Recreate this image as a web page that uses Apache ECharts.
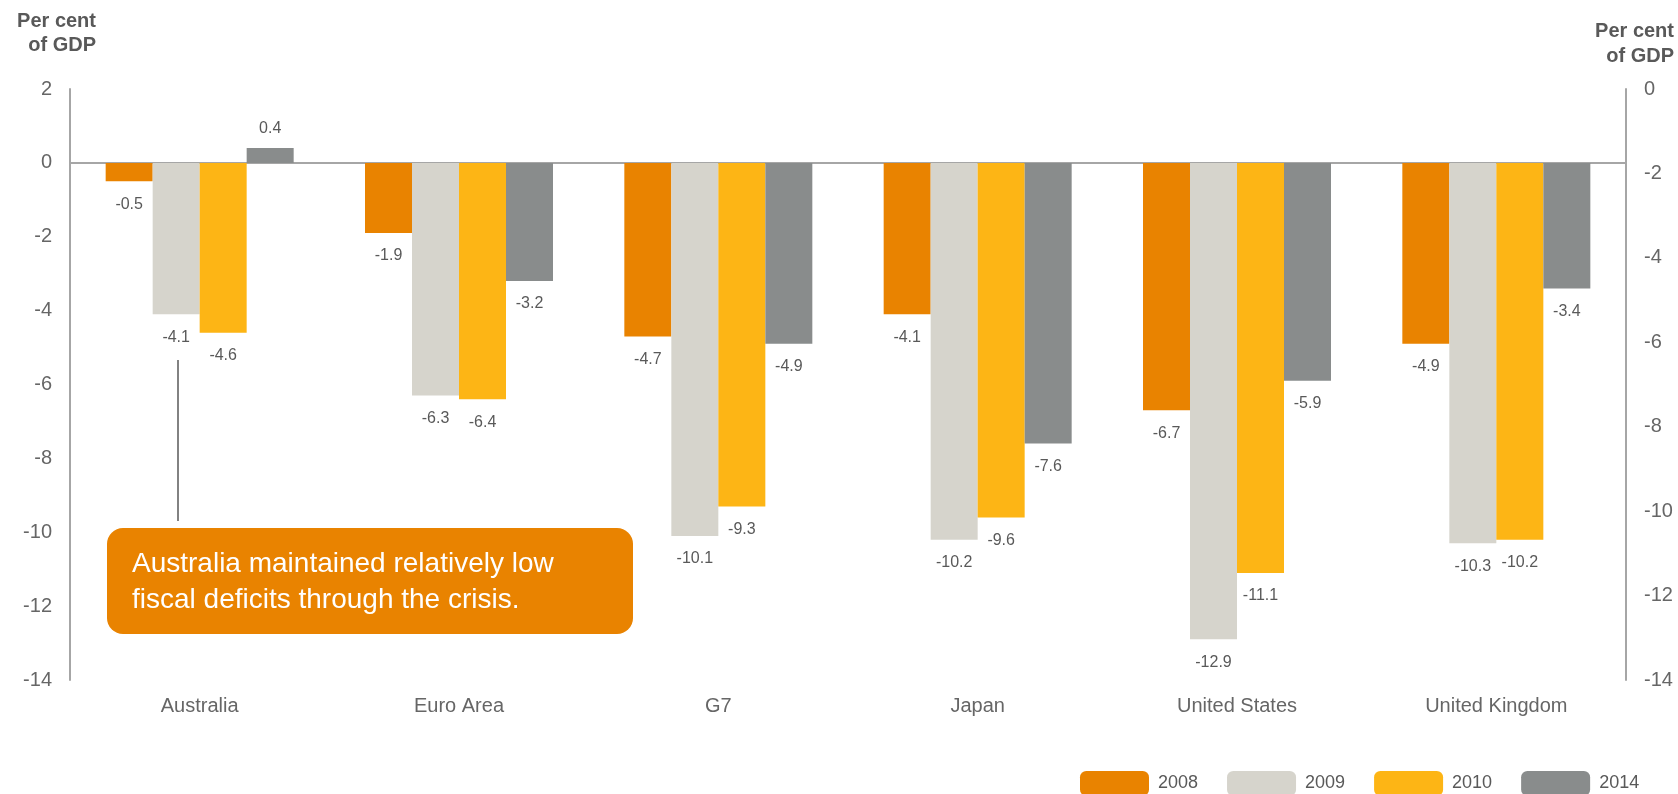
<!DOCTYPE html>
<html>
<head>
<meta charset="utf-8">
<title>Fiscal balances</title>
<script src="https://cdn.jsdelivr.net/npm/echarts@6/dist/echarts.min.js"></script>
<style>
  html, body { margin: 0; padding: 0; background: #fff; }
  #main { width: 1678px; height: 794px; }
</style>
</head>
<body>
<div id="main"></div>
<script>
// categories and values (per cent of GDP)
var countries = ['Australia', 'Euro Area', 'G7', 'Japan', 'United States', 'United Kingdom'];
var years = ['2008', '2009', '2010', '2014'];
var y2008 = [-0.5, -1.9, -4.7, -4.1, -6.7, -4.9];
var y2009 = [-4.1, -6.3, -10.1, -10.2, -12.9, -10.3];
var y2010 = [-4.6, -6.4, -9.3, -9.6, -11.1, -10.2];
var y2014 = [0.4, -3.2, -4.9, -7.6, -5.9, -3.4];
var colors = ['#E98300', '#D6D4CC', '#FDB515', '#898C8C'];

var FONT = '"Liberation Sans", Arial, sans-serif';
var myChart = echarts.init(document.getElementById('main'));

// label goes above positive bars, below negative ones
function toItems(arr) {
    return arr.map(function (v) {
        return { value: v, label: { position: v >= 0 ? 'top' : 'bottom', distance: v >= 0 ? 12 : 15 } };
    });
}

function barSeries(name, arr, idx) {
    var s = {
        name: name,
        type: 'bar',
        barWidth: 47,
        barGap: '0%',
        itemStyle: { color: colors[idx] },
        label: {
            show: true,
            fontSize: 16,
            fontFamily: FONT,
            color: '#595959'
        },
        data: toItems(arr)
    };
    if (idx == 0) {
        // zero line
        s.markLine = {
            silent: true,
            symbol: 'none',
            label: { show: false },
            lineStyle: { color: '#a6a6a6', width: 2, type: 'solid' },
            data: [{ yAxis: 0 }],
            z: 1
        };
    }
    return s;
}

var axisLabelStyle = { fontSize: 20, fontFamily: FONT, color: '#666' };

myChart.setOption({
    animation: false,
    textStyle: { fontFamily: FONT },
    grid: { left: 70, right: 52, top: 89, bottom: 114 },
    legend: {
        data: years,
        left: 1080,
        top: 771,
        padding: 0,
        itemWidth: 69,
        itemHeight: 25,
        itemGap: 29,
        icon: 'roundRect',
        textStyle: { fontSize: 18, fontFamily: FONT, color: '#595959', padding: [0, 0, 0, 4] }
    },
    xAxis: {
        type: 'category',
        data: countries,
        axisLine: { show: false, onZero: false },
        axisTick: { show: false },
        axisLabel: { margin: 16, fontSize: 20, fontFamily: FONT, color: '#666' }
    },
    yAxis: [
        {
            type: 'value',
            min: -14,
            max: 2,
            interval: 2,
            position: 'left',
            axisLine: { show: true, lineStyle: { color: '#a6a6a6', width: 2 } },
            axisTick: { show: false },
            splitLine: { show: false },
            axisLabel: Object.assign({ margin: 18 }, axisLabelStyle)
        },
        {
            type: 'value',
            min: -14,
            max: 0,
            interval: 2,
            position: 'right',
            axisLine: { show: true, lineStyle: { color: '#a6a6a6', width: 2 } },
            axisTick: { show: false },
            splitLine: { show: false },
            axisLabel: Object.assign({ margin: 18 }, axisLabelStyle)
        }
    ],
    series: [
        barSeries('2008', y2008, 0),
        barSeries('2009', y2009, 1),
        barSeries('2010', y2010, 2),
        barSeries('2014', y2014, 3)
    ],
    graphic: [
        // axis titles, right aligned per line
        {
            type: 'text', x: 96, y: 11,
            style: { text: 'Per cent', font: 'bold 20px ' + FONT, fill: '#595959', align: 'right' }
        },
        {
            type: 'text', x: 96, y: 35,
            style: { text: 'of GDP', font: 'bold 20px ' + FONT, fill: '#595959', align: 'right' }
        },
        {
            type: 'text', x: 1674, y: 21,
            style: { text: 'Per cent', font: 'bold 20px ' + FONT, fill: '#595959', align: 'right' }
        },
        {
            type: 'text', x: 1674, y: 46,
            style: { text: 'of GDP', font: 'bold 20px ' + FONT, fill: '#595959', align: 'right' }
        },
        // callout
        {
            type: 'line',
            shape: { x1: 178, y1: 360, x2: 178, y2: 521 },
            style: { stroke: '#595959', lineWidth: 1.5 }
        },
        {
            type: 'rect',
            shape: { x: 107, y: 528, width: 526, height: 106, r: 16 },
            style: { fill: '#E98300' }
        },
        {
            type: 'text', left: 132, top: 546,
            style: {
                text: 'Australia maintained relatively low\nfiscal deficits through the crisis.',
                font: '28px ' + FONT, fill: '#fff', lineHeight: 36
            }
        }
    ]
});
</script>
</body>
</html>
